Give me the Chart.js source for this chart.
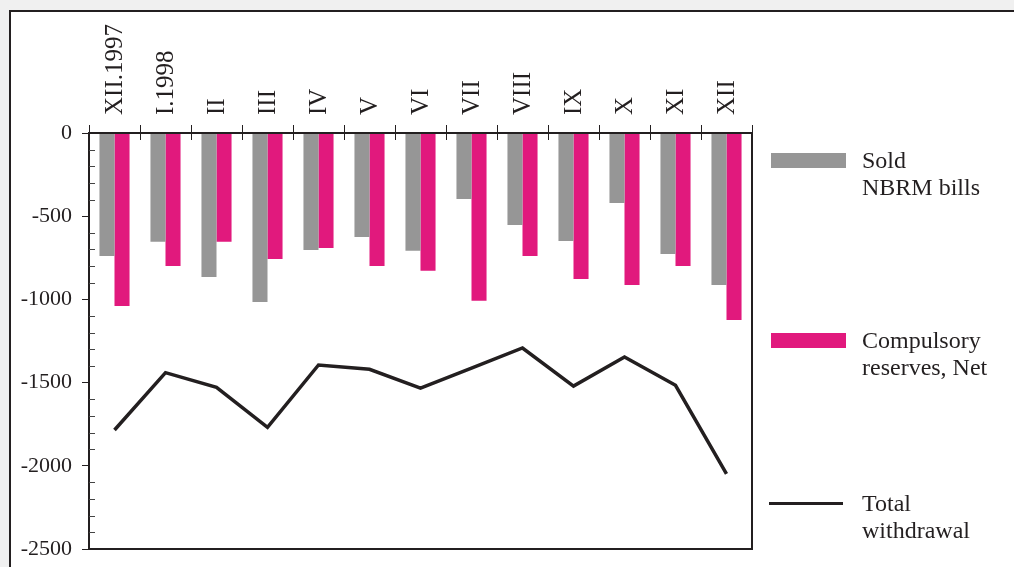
<!DOCTYPE html>
<html>
<head>
<meta charset="utf-8">
<script src="https://cdn.jsdelivr.net/npm/chart.js@4"></script>
<style>
    html, body { margin: 0; padding: 0; background: #f0f0f0; }
    body { width: 1014px; height: 567px; position: relative; overflow: hidden; font-family: "Liberation Serif", serif; }
    .panel { position: absolute; left: 9px; top: 10px; width: 1100px; height: 700px; background: #fff;
        border-left: 2px solid #231f20; border-top: 2px solid #231f20; }
    #chart { position: absolute; left: 0; top: 0; }
    .legend-item { position: absolute; left: 769px; }
    .swatch { position: absolute; left: 2px; width: 75px; height: 15px; }
    .swatch.line { left: 0; width: 74px; height: 3px; }
    .legend-text { position: absolute; left: 93px; font-size: 24px; line-height: 27px; color: #231f20; white-space: nowrap; }
</style>
</head>
<body>
<div class="panel"></div>
<canvas id="chart" width="1014" height="567"></canvas>
<div id="legend"></div>
<script>
const months = ['XII.1997', 'I.1998', 'II', 'III', 'IV', 'V', 'VI', 'VII', 'VIII', 'IX', 'X', 'XI', 'XII'];
const soldBills = [-739, -653, -865, -1016, -703, -625, -707, -397, -553, -649, -421, -727, -913];
const reserves = [-1040, -799, -653, -757, -691, -799, -828, -1008, -739, -877, -913, -799, -1124];
const totalWithdrawal = [-1785, -1440, -1529, -1769, -1394, -1420, -1533, -1413, -1292, -1521, -1346, -1516, -2049];
const seriesNames = [['Sold', 'NBRM bills'], ['Compulsory', 'reserves, Net'], ['Total', 'withdrawal']];
const seriesColors = ['#969696', '#e1197d', '#231f20'];
const yTicks = [0, -500, -1000, -1500, -2000, -2500];

const ink = '#231f20';
const serif = '"Liberation Serif", "Times New Roman", serif';

// frame of the plot, crossing ticks on the 0 line, minor ticks on the y axis
const framePlugin = {
    id: 'frame',
    afterDraw(chart) {
        const ctx = chart.ctx;
        const area = chart.chartArea;
        const x = chart.scales.x;
        const y = chart.scales.y;
        ctx.save();
        ctx.strokeStyle = ink;
        ctx.lineWidth = 2;
        ctx.strokeRect(area.left, area.top, area.right - area.left, area.bottom - area.top);

        ctx.lineWidth = 1;
        const n = months.length;
        for (let i = 0; i <= n; i++) {
            let px;
            if (i === 0) px = area.left;
            else if (i === n) px = area.right;
            else px = (x.getPixelForValue(i - 1) + x.getPixelForValue(i)) / 2;
            px = Math.round(px) + 0.5;
            ctx.beginPath();
            ctx.moveTo(px, area.top - 8);
            ctx.lineTo(px, area.top + 7);
            ctx.stroke();
        }

        ctx.strokeStyle = '#444';
        for (let v = -100; v > -2500; v -= 100) {
            if (v % 500 === 0) continue;
            const py = Math.round(y.getPixelForValue(v)) + 0.5;
            ctx.beginPath();
            ctx.moveTo(area.left, py);
            ctx.lineTo(area.left + 6, py);
            ctx.stroke();
        }
        ctx.restore();
    }
};

new Chart(document.getElementById('chart'), {
    type: 'bar',
    data: {
        labels: months,
        datasets: [
            {
                type: 'line',
                label: seriesNames[2].join(' '),
                data: totalWithdrawal,
                borderColor: seriesColors[2],
                borderWidth: 3.5,
                pointRadius: 0,
                tension: 0,
                order: 0
            },
            {
                label: seriesNames[0].join(' '),
                data: soldBills,
                backgroundColor: seriesColors[0],
                categoryPercentage: 0.59,
                barPercentage: 1,
                order: 1
            },
            {
                label: seriesNames[1].join(' '),
                data: reserves,
                backgroundColor: seriesColors[1],
                categoryPercentage: 0.59,
                barPercentage: 1,
                order: 1
            }
        ]
    },
    options: {
        responsive: false,
        animation: false,
        layout: { padding: { left: 0, top: 0, right: 262, bottom: 18 } },
        plugins: {
            legend: { display: false },
            tooltip: { enabled: false }
        },
        scales: {
            x: {
                position: 'top',
                grid: { display: false },
                border: { display: false },
                afterFit: (s) => { s.height = 133; },
                ticks: {
                    minRotation: 90,
                    maxRotation: 90,
                    autoSkip: false,
                    padding: 10,
                    labelOffset: 31,
                    color: ink,
                    font: { family: serif, size: 25 }
                }
            },
            y: {
                min: -2500,
                max: 0,
                afterFit: (s) => { s.width = 89; s.paddingTop = 0; s.paddingBottom = 0; },
                afterBuildTicks: (s) => { s.ticks = yTicks.map(v => ({ value: v })); },
                border: { display: true, color: ink, width: 2 },
                grid: { drawOnChartArea: false, drawTicks: true, tickLength: 7, color: ink },
                ticks: {
                    padding: 10,
                    color: ink,
                    font: { family: serif, size: 22 },
                    callback: (v) => String(v)
                }
            }
        }
    },
    plugins: [framePlugin]
});

// legend on the right, built from the series names
const legendTops = [147, 327, 490];
const legend = document.getElementById('legend');
seriesNames.forEach((lines, i) => {
    const item = document.createElement('div');
    item.className = 'legend-item';
    item.style.top = legendTops[i] + 'px';
    const sw = document.createElement('div');
    sw.className = 'swatch' + (i === 2 ? ' line' : '');
    sw.style.background = seriesColors[i];
    sw.style.top = (i === 2 ? 12 : 6) + 'px';
    const txt = document.createElement('div');
    txt.className = 'legend-text';
    txt.innerHTML = lines.join('<br>');
    item.append(sw, txt);
    legend.appendChild(item);
});
</script>
</body>
</html>
